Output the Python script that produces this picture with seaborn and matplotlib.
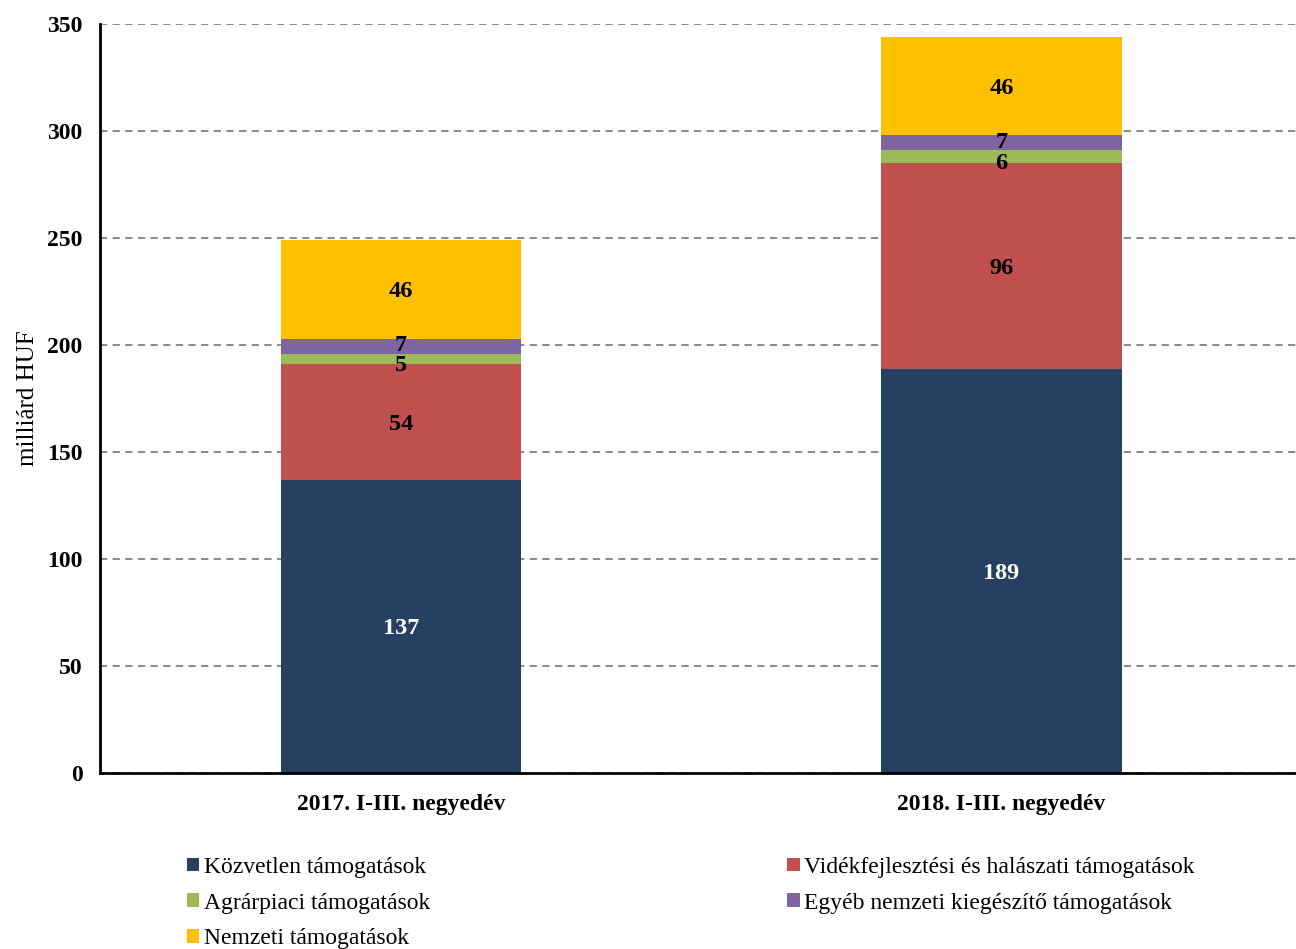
import numpy as np
import seaborn as sns
import matplotlib.pyplot as plt
from matplotlib.patches import Patch

periods = ["2017. I-III. negyedév", "2018. I-III. negyedév"]
series_names = [
    "Közvetlen támogatások",
    "Vidékfejlesztési és halászati támogatások",
    "Agrárpiaci támogatások",
    "Egyéb nemzeti kiegészítő támogatások",
    "Nemzeti támogatások",
]
kozvetlen = [137, 189]
videkfejlesztesi = [54, 96]
agrarpiaci = [5, 6]
egyeb = [7, 7]
nemzeti = [46, 46]
colors = ["#264061", "#C0504D", "#9BBB59", "#8064A2", "#FFC000"]
label_colors = ["white", "black", "black", "black", "black"]
y_ticks = [0, 50, 100, 150, 200, 250, 300, 350]

sns.set_style("white", {"text.color": "black", "axes.labelcolor": "black",
                        "xtick.color": "black", "ytick.color": "black"})
plt.rcParams["font.family"] = ["Liberation Serif", "DejaVu Serif"]

layers = np.array([kozvetlen, videkfejlesztesi, agrarpiaci, egyeb, nemzeti], dtype=float)
tops = layers.cumsum(axis=0)
bottoms = tops - layers

fig = plt.figure(figsize=(12.96, 9.49), dpi=100)
ax = fig.add_axes([0.0775, 0.1855, 0.9225, 0.7892])

# stacked bars: draw cumulative heights from the top layer down
for i in range(len(layers) - 1, -1, -1):
    sns.barplot(x=periods, y=tops[i], color=colors[i], saturation=1,
                width=0.4, linewidth=0, ax=ax)

# value labels in the middle of each segment (small ones nudged apart)
nudge = [0, 0, -2, 1.5, 0]
for i in range(len(layers)):
    for j in range(len(periods)):
        y = (bottoms[i, j] + tops[i, j]) / 2 + nudge[i]
        ax.text(j, y, f"{layers[i, j]:.0f}", ha="center", va="center_baseline",
                fontsize=17.5, fontweight="bold", color=label_colors[i])

ax.set_xlim(-0.5, 1.49)
ax.set_ylim(0, 350)
ax.set_yticks(y_ticks)
ax.set_yticklabels([str(t) for t in y_ticks], fontsize=17, fontweight="bold")
ax.set_xticks([0, 1])
ax.set_xticklabels(periods, fontsize=17, fontweight="bold")
ax.set_xticks([-0.5, 0.5, 1.49], minor=True)
ax.tick_params(axis="x", which="major", length=0, pad=15)
ax.tick_params(axis="x", which="minor", length=6, width=1.5, direction="out", color="black")
ax.tick_params(axis="y", length=5, width=1.5, direction="out", color="black", pad=8)
ax.set_xlabel("")
ax.set_ylabel("milliárd HUF", fontsize=18, labelpad=6, color="black")

ax.set_axisbelow(True)
ax.yaxis.grid(True, color="#808080", linestyle=(0, (4, 3)), linewidth=1.3)
sns.despine(ax=ax, top=True, right=True)
for side in ["left", "bottom"]:
    ax.spines[side].set_color("black")
    ax.spines[side].set_linewidth(2)

order = [0, 2, 4, 1, 3]
handles = [Patch(facecolor=colors[k], edgecolor="none") for k in order]
labels = [series_names[k] for k in order]
fig.legend(handles, labels, ncol=2, loc="upper left", bbox_to_anchor=(0.1443, 0.097),
           frameon=False, fontsize=17, handlelength=0.52, handleheight=0.52,
           handletextpad=0.2, columnspacing=15.13, labelspacing=0.62,
           borderaxespad=0, borderpad=0, labelcolor="black")

fig.savefig("out.png", dpi=100)
